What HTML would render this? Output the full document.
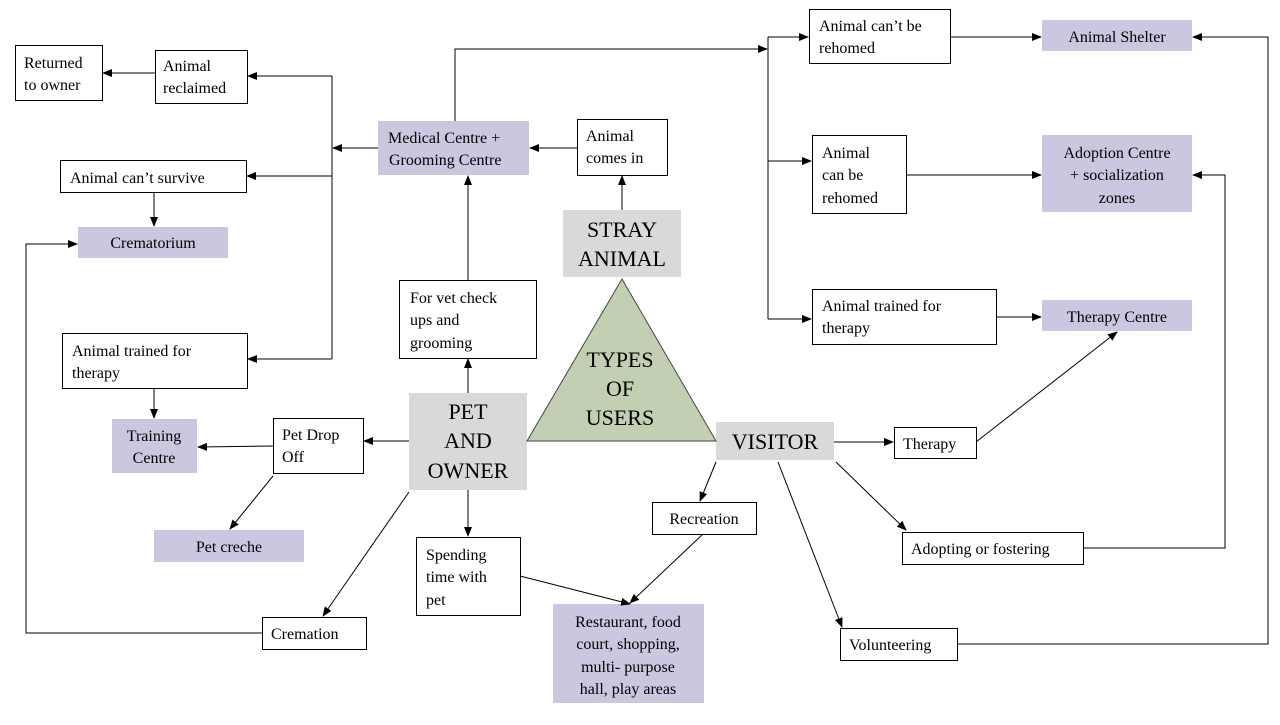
<!DOCTYPE html>
<html><head><meta charset="utf-8"><style>
html,body{margin:0;padding:0;background:#fff;}
svg, svg text{font-family:"Liberation Serif","DejaVu Serif",serif;}
</style></head><body>
<svg width="1280" height="720" viewBox="0 0 1280 720" xmlns="http://www.w3.org/2000/svg" font-family="Liberation Serif, DejaVu Serif, serif">
<defs><marker id="a" markerWidth="10" markerHeight="8" refX="9" refY="4" orient="auto" markerUnits="userSpaceOnUse"><path d="M0,0 L10,4 L0,8 z" fill="#000"/></marker></defs>
<g stroke="#000" stroke-width="1" fill="#fff">
<rect x="15.5" y="45.5" width="87" height="55"/>
<rect x="155.5" y="50.5" width="92" height="53"/>
<rect x="577.5" y="119.5" width="90" height="56"/>
<rect x="60.5" y="160.5" width="186" height="32"/>
<rect x="62.5" y="333.5" width="185" height="55"/>
<rect x="399.5" y="280.5" width="137" height="78"/>
<rect x="273.5" y="418.5" width="90" height="55"/>
<rect x="416.5" y="537.5" width="104" height="78"/>
<rect x="652.5" y="502.5" width="104" height="32"/>
<rect x="262.5" y="617.5" width="104" height="32"/>
<rect x="809.5" y="9.5" width="141" height="54"/>
<rect x="812.5" y="135.5" width="94" height="78"/>
<rect x="812.5" y="289.5" width="184" height="55"/>
<rect x="894.5" y="427.5" width="82" height="31"/>
<rect x="902.5" y="532.5" width="181" height="32"/>
<rect x="840.5" y="628.5" width="117" height="32"/>
</g>
<g fill="#cdc6e1">
<rect x="378" y="121" width="151" height="54"/>
<rect x="78" y="227" width="150" height="31"/>
<rect x="112" y="419" width="85" height="54"/>
<rect x="154" y="530" width="150" height="32"/>
<rect x="553" y="604" width="151" height="99"/>
<rect x="1042" y="20" width="150" height="31"/>
<rect x="1042" y="135" width="150" height="77"/>
<rect x="1042" y="300" width="150" height="31"/>
</g>
<g fill="#d9d9d9">
<rect x="563" y="210" width="118" height="67"/>
<rect x="409" y="393" width="118" height="97"/>
<rect x="716" y="422" width="118" height="38"/>
</g>
<polygon points="622,279 527,441 716,441" fill="#c3cfb3" stroke="#444" stroke-width="1"/>
<g stroke="#000" stroke-width="1" fill="none">
<line x1="378" y1="148" x2="333" y2="148" marker-end="url(#a)"/>
<line x1="332" y1="76" x2="332" y2="359"/>
<line x1="332" y1="76" x2="248" y2="76" marker-end="url(#a)"/>
<line x1="332" y1="176" x2="247" y2="176" marker-end="url(#a)"/>
<line x1="332" y1="359" x2="248" y2="359" marker-end="url(#a)"/>
<line x1="155" y1="73" x2="103" y2="73" marker-end="url(#a)"/>
<line x1="154" y1="192" x2="154" y2="226" marker-end="url(#a)"/>
<polyline points="262,633 26,633 26,244 77,244" marker-end="url(#a)"/>
<line x1="154" y1="388" x2="154" y2="418" marker-end="url(#a)"/>
<line x1="273" y1="446" x2="198" y2="447" marker-end="url(#a)"/>
<line x1="273" y1="476" x2="230" y2="529" marker-end="url(#a)"/>
<line x1="409" y1="441" x2="364" y2="441" marker-end="url(#a)"/>
<line x1="409" y1="492" x2="323" y2="616" marker-end="url(#a)"/>
<line x1="468" y1="490" x2="468" y2="536" marker-end="url(#a)"/>
<line x1="468" y1="393" x2="468" y2="359" marker-end="url(#a)"/>
<line x1="468" y1="280" x2="468" y2="176" marker-end="url(#a)"/>
<line x1="577" y1="148" x2="530" y2="148" marker-end="url(#a)"/>
<line x1="622" y1="210" x2="622" y2="176" marker-end="url(#a)"/>
<polyline points="455,121 455,49 767,49" marker-end="url(#a)"/>
<line x1="768" y1="37" x2="768" y2="319"/>
<line x1="768" y1="37" x2="808" y2="37" marker-end="url(#a)"/>
<line x1="768" y1="161" x2="811" y2="161" marker-end="url(#a)"/>
<line x1="768" y1="319" x2="811" y2="319" marker-end="url(#a)"/>
<line x1="950" y1="37" x2="1041" y2="37" marker-end="url(#a)"/>
<line x1="906" y1="175" x2="1041" y2="175" marker-end="url(#a)"/>
<line x1="996" y1="317" x2="1041" y2="317" marker-end="url(#a)"/>
<line x1="834" y1="442" x2="893" y2="442" marker-end="url(#a)"/>
<line x1="976" y1="442" x2="1117" y2="332" marker-end="url(#a)"/>
<line x1="836" y1="462" x2="906" y2="530" marker-end="url(#a)"/>
<polyline points="1083,548 1225,548 1225,175 1193,175" marker-end="url(#a)"/>
<line x1="778" y1="462" x2="842" y2="627" marker-end="url(#a)"/>
<polyline points="957,644 1268,644 1268,37 1193,37" marker-end="url(#a)"/>
<line x1="716" y1="462" x2="700" y2="501" marker-end="url(#a)"/>
<line x1="703" y1="534" x2="630" y2="603" marker-end="url(#a)"/>
<line x1="520" y1="576" x2="630" y2="604" marker-end="url(#a)"/>
</g>
<g font-size="16" fill="#000" font-family="Liberation Serif, DejaVu Serif, serif">
<text x="24" y="68">Returned</text><text x="24" y="90">to owner</text>
<text x="163" y="71">Animal</text><text x="163" y="93">reclaimed</text>
<text x="388" y="143">Medical  Centre +</text><text x="389" y="165">Grooming Centre</text>
<text x="586" y="141">Animal</text><text x="586" y="163">comes in</text>
<text x="70" y="183">Animal  can’t survive</text>
<text x="153" y="248" text-anchor="middle">Crematorium</text>
<text x="72" y="356">Animal  trained  for</text><text x="72" y="378">therapy</text>
<text x="410" y="303">For vet  check</text><text x="410" y="325">ups and</text><text x="410" y="348">grooming</text>
<text x="154" y="441" text-anchor="middle">Training</text><text x="154" y="463" text-anchor="middle">Centre</text>
<text x="282" y="440">Pet Drop</text><text x="282" y="462">Off</text>
<text x="229" y="552" text-anchor="middle">Pet creche</text>
<text x="426" y="560">Spending</text><text x="426" y="582">time  with</text><text x="426" y="605">pet</text>
<text x="704" y="524" text-anchor="middle">Recreation</text>
<text x="628" y="627" text-anchor="middle">Restaurant, food</text><text x="628" y="649" text-anchor="middle">court, shopping,</text><text x="628" y="672" text-anchor="middle">multi-  purpose</text><text x="628" y="694" text-anchor="middle">hall,  play areas</text>
<text x="271" y="639">Cremation</text>
<text x="819" y="31">Animal  can’t be</text><text x="819" y="53">rehomed</text>
<text x="1117" y="42" text-anchor="middle">Animal  Shelter</text>
<text x="822" y="158">Animal</text><text x="822" y="180">can be</text><text x="822" y="203">rehomed</text>
<text x="1117" y="158" text-anchor="middle">Adoption Centre</text><text x="1117" y="180" text-anchor="middle">+ socialization</text><text x="1117" y="203" text-anchor="middle">zones</text>
<text x="822" y="311">Animal  trained  for</text><text x="822" y="333">therapy</text>
<text x="1117" y="322" text-anchor="middle">Therapy Centre</text>
<text x="903" y="449">Therapy</text>
<text x="911" y="554">Adopting or fostering</text>
<text x="849" y="650">Volunteering</text>
</g>
<g font-size="22" fill="#000" text-anchor="middle" font-family="Liberation Serif, DejaVu Serif, serif">
<text x="622" y="237">STRAY</text><text x="622" y="266">ANIMAL</text>
<text x="620" y="367">TYPES</text><text x="620" y="396">OF</text><text x="620" y="425">USERS</text>
<text x="468" y="419">PET</text><text x="468" y="448">AND</text><text x="468" y="478">OWNER</text>
<text x="775" y="449">VISITOR</text>
</g>
</svg>
</body></html>
